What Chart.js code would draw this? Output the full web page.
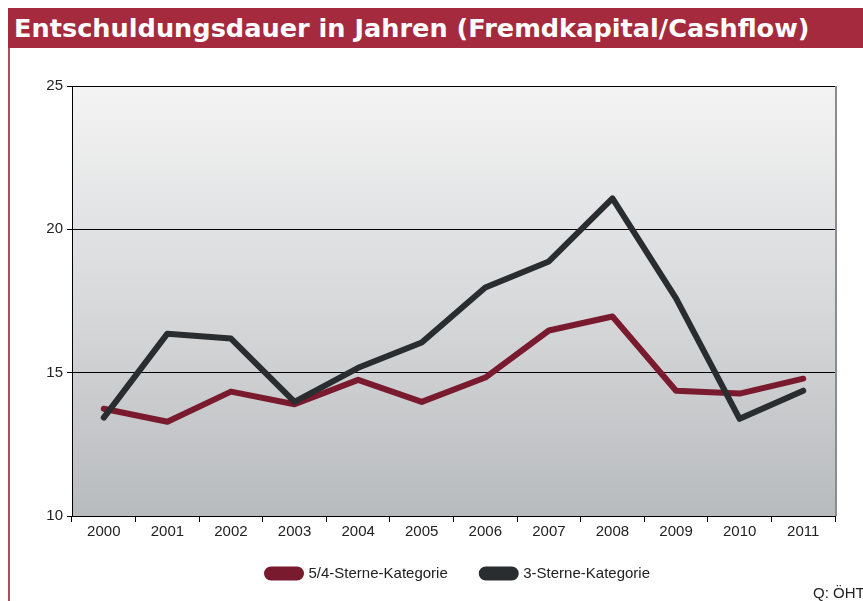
<!DOCTYPE html>
<html><head><meta charset="utf-8">
<script src="https://cdn.jsdelivr.net/npm/chart.js@4"></script>
<style>
html,body{margin:0;padding:0;background:#fff;width:863px;height:601px;overflow:hidden;}
#title{position:absolute;left:8px;top:8px;width:855px;height:40px;background:#a62a3e;color:#fff;font:bold 25.6px "DejaVu Sans",sans-serif;line-height:40px;padding-left:6px;box-sizing:border-box;white-space:nowrap;z-index:2;}
#lborder{position:absolute;left:8px;top:48px;width:2px;height:553px;background:#b24a5a;z-index:2;}
#src{position:absolute;left:813px;top:584px;font:15px "Liberation Sans",Arial,sans-serif;color:#222;white-space:nowrap;z-index:2;}
#c{position:absolute;left:0;top:0;}
</style></head>
<body>
<div id="title">Entschuldungsdauer in Jahren (Fremdkapital/Cashflow)</div>
<div id="lborder"></div>
<div id="src">Q: ÖHT</div>
<canvas id="c" width="863" height="601"></canvas>
<script>
const categories = ["2000","2001","2002","2003","2004","2005","2006","2007","2008","2009","2010","2011"];
const series54 = [13.74,13.29,14.34,13.9,14.75,13.98,14.83,16.47,16.96,14.37,14.27,14.79];
const series3 = [13.43,16.36,16.19,13.98,15.17,16.05,17.97,18.88,21.08,17.59,13.39,14.37];
const label54 = "5/4-Sterne-Kategorie";
const label3 = "3-Sterne-Kategorie";
const yTicks = [10,15,20,25];

const bgPlugin = {
  id:'bg',
  afterLayout(chart){
    const l = chart.legend;
    if(!l) return;
    const h = l.height;
    l.top = chart.chartArea.bottom + 16;
    l.bottom = l.top + h;
    l.left += 41;
    l.right += 41;
  },
  beforeDraw(chart){
    const {ctx, chartArea:a} = chart;
    const g = ctx.createLinearGradient(0,a.top,0,a.bottom);
    g.addColorStop(0,'#f4f4f4');
    g.addColorStop(0.5,'#d8d9db');
    g.addColorStop(1,'#b8bbbe');
    ctx.save();
    ctx.fillStyle = g;
    ctx.fillRect(a.left,a.top,a.right-a.left,a.bottom-a.top);
    ctx.restore();
  },
  afterDatasetsDraw(chart){
    const {ctx, chartArea:a} = chart;
    ctx.save();
    ctx.strokeStyle='#8c8c8c';
    ctx.lineWidth=2;
    ctx.beginPath();
    ctx.moveTo(a.right+1,a.top);
    ctx.lineTo(a.right+1,a.bottom);
    ctx.stroke();
    ctx.restore();
  }
};

const font = {family:'"Liberation Sans", Arial, sans-serif', size:15};

new Chart(document.getElementById('c'),{
  type:'line',
  data:{
    labels:categories,
    datasets:[
      {label:label3,data:series3,borderColor:'#2a2d30',backgroundColor:'#2a2d30',borderWidth:6,pointRadius:0,tension:0,borderJoinStyle:'round',borderCapStyle:'round'},
      {label:label54,data:series54,borderColor:'#7a1a2e',backgroundColor:'#7a1a2e',borderWidth:6,pointRadius:0,tension:0,borderJoinStyle:'round',borderCapStyle:'round'}
    ]
  },
  options:{
    responsive:false,
    animation:false,
    devicePixelRatio:1,
    layout:{padding:{left:0,top:86,right:28,bottom:0}},
    plugins:{
      tooltip:{enabled:false},
      legend:{
        position:'bottom',
        reverse:true,
        maxHeight:52,
        labels:{
          boxWidth:34,boxHeight:8,useBorderRadius:true,borderRadius:4,
          padding:34,color:'#222',font:font
        }
      }
    },
    scales:{
      x:{
        offset:true,
        grid:{offset:true,drawOnChartArea:false,color:'#000',tickLength:6},
        border:{color:'#000',width:1},
        ticks:{color:'#222',font:font,padding:1,maxRotation:0},
        afterFit(s){s.height=33;}
      },
      y:{
        min:10,max:25,
        afterBuildTicks(s){s.ticks=yTicks.map(v=>({value:v}));},
        grid:{color:'#000',lineWidth:1,tickLength:5},
        border:{color:'#000',width:1},
        ticks:{color:'#222',font:font,padding:4},
        afterFit(s){s.width=72;}
      }
    }
  },
  plugins:[bgPlugin]
});
</script>
</body></html>
